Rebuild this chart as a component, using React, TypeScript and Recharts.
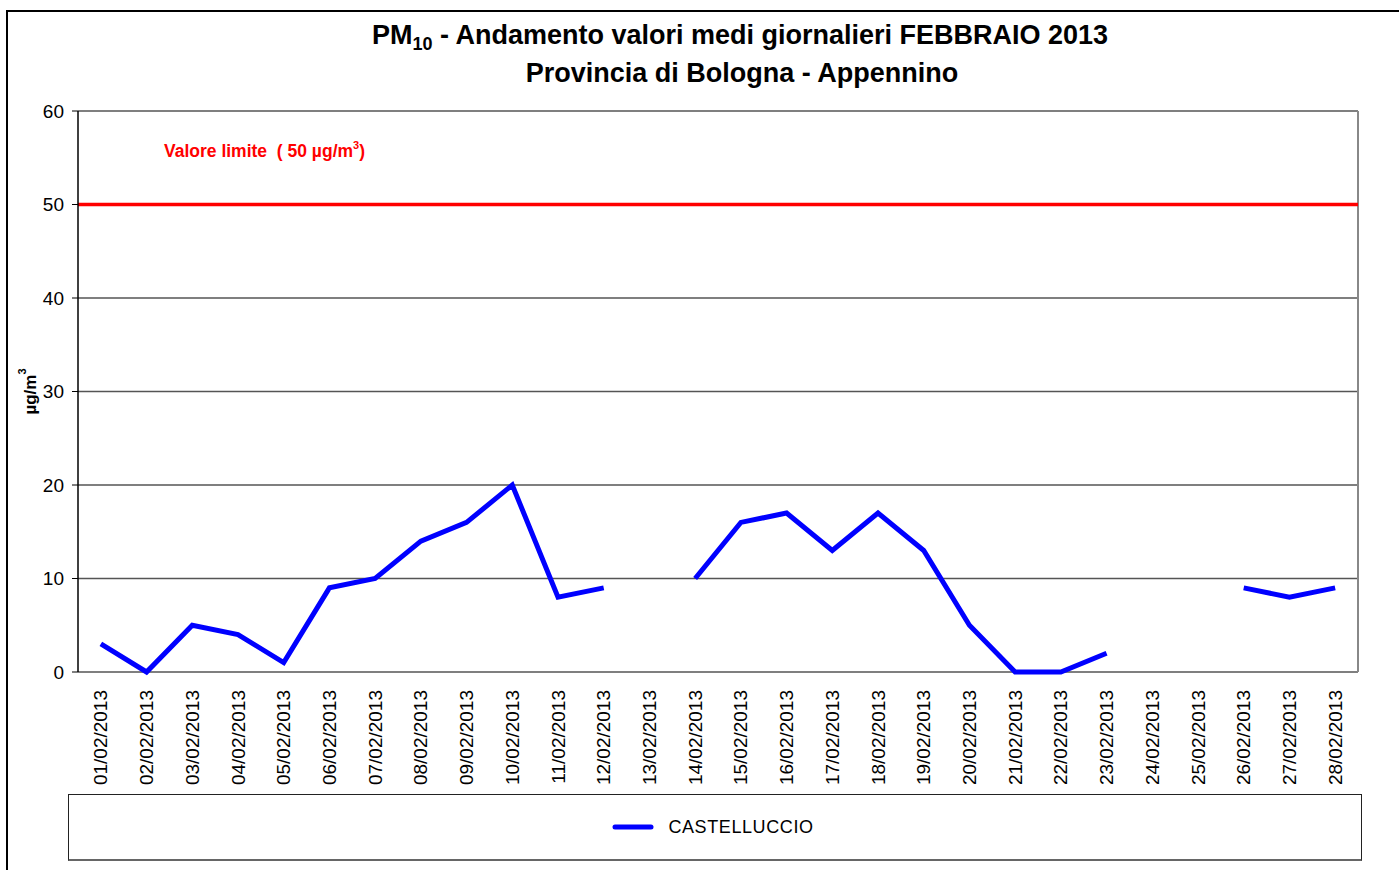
import React from 'react';
import {
  LineChart,
  Line,
  XAxis,
  YAxis,
  CartesianGrid,
  Legend,
  ReferenceLine,
  Label,
} from 'recharts';

// giorni del mese (asse numerico, così i tick di separazione cadono tra le date)
const days = [1, 2, 3, 4, 5, 6, 7, 8, 9, 10, 11, 12, 13, 14, 15, 16, 17, 18, 19, 20, 21, 22, 23, 24, 25, 26, 27, 28];
const dateLabels = [
  '01/02/2013', '02/02/2013', '03/02/2013', '04/02/2013', '05/02/2013', '06/02/2013', '07/02/2013',
  '08/02/2013', '09/02/2013', '10/02/2013', '11/02/2013', '12/02/2013', '13/02/2013', '14/02/2013',
  '15/02/2013', '16/02/2013', '17/02/2013', '18/02/2013', '19/02/2013', '20/02/2013', '21/02/2013',
  '22/02/2013', '23/02/2013', '24/02/2013', '25/02/2013', '26/02/2013', '27/02/2013', '28/02/2013',
];
// valori medi giornalieri PM10 (µg/m3), null = dato mancante
const castelluccio = [3, 0, 5, 4, 1, 9, 10, 14, 16, 20, 8, 9, null, 10, 16, 17, 13, 17, 13, 5, 0, 0, 2, null, null, 9, 8, 9];
const yTicks = [0, 10, 20, 30, 40, 50, 60];
const LIMIT = 50;

const data = days.map((d, i) => ({ day: d, label: dateLabels[i], castelluccio: castelluccio[i] }));
const boundaryTicks = [0.5, ...days.map((d) => d + 0.5)];

const FONT = '"Liberation Sans", Arial, sans-serif';
const W = 1391;
const H = 858;

const DateTick = ({ x, y, payload }: any) => {
  const idx = days.indexOf(payload.value);
  return (
    <text
      transform={`translate(${x},${y + 10}) rotate(-90)`}
      textAnchor="end"
      dominantBaseline="central"
      fontSize={19}
      fontFamily={FONT}
      fill="#000"
    >
      {dateLabels[idx]}
    </text>
  );
};

const YAxisTitle = ({ viewBox }: any) => {
  const cx = viewBox.x + 22;
  const cy = viewBox.y + viewBox.height / 2;
  return (
    <text
      transform={`translate(${cx},${cy}) rotate(-90)`}
      textAnchor="middle"
      dominantBaseline="central"
      fontSize={17}
      fontWeight="bold"
      fontFamily={FONT}
      fill="#000"
    >
      µg/m<tspan dy={-8} fontSize={11}>3</tspan>
    </text>
  );
};

const LimitLabel = ({ viewBox }: any) => (
  <text x={viewBox.x + 86} y={viewBox.y - 48} fontSize={17.5} fontWeight="bold" fontFamily={FONT} fill="#ff0000">
    Valore limite {'\u00a0'}( 50 µg/m<tspan dy={-8} fontSize={11}>3</tspan>
    <tspan dy={8}>)</tspan>
  </text>
);

const LegendBox = () => (
  <div
    style={{
      height: 64,
      border: '1px solid #222',
      borderBottom: '2px solid #666',
      display: 'flex',
      alignItems: 'center',
      justifyContent: 'center',
      fontFamily: FONT,
      fontSize: 18,
      color: '#000',
    }}
  >
    <svg width={42} height={8} style={{ marginRight: 14, marginLeft: -4 }}>
      <line x1={3} y1={4} x2={39} y2={4} stroke="#0000ff" strokeWidth={5} strokeLinecap="round" />
    </svg>
    <span style={{ letterSpacing: 0.6 }}>CASTELLUCCIO</span>
  </div>
);

export default function App() {
  return (
    <div
      style={{
        position: 'absolute',
        left: 6,
        top: 10,
        width: W,
        height: H,
        borderLeft: '2px solid #000',
        borderTop: '2px solid #000',
        background: '#fff',
        overflow: 'hidden',
      }}
    >
      <svg width={W} height={110} style={{ position: 'absolute', left: 0, top: 0, pointerEvents: 'none' }}>
        <text x={732} y={32} textAnchor="middle" fontSize={27} fontWeight="bold" fontFamily={FONT} fill="#000">
          PM<tspan dy={6} fontSize={18}>10</tspan>
          <tspan dy={-6}> - Andamento valori medi giornalieri FEBBRAIO 2013</tspan>
        </text>
        <text x={734} y={70} textAnchor="middle" fontSize={27} fontWeight="bold" fontFamily={FONT} fill="#000">
          Provincia di Bologna - Appennino
        </text>
      </svg>
      <LineChart width={W} height={H} data={data} margin={{ top: 99, right: 41, left: 0, bottom: 9 }}>
        <CartesianGrid vertical={false} stroke="#555" strokeWidth={1.3} />
        <XAxis
          xAxisId="sep"
          dataKey="day"
          type="number"
          domain={[0.5, 28.5]}
          ticks={boundaryTicks}
          tick={false}
          tickSize={7}
          height={0}
          axisLine={{ stroke: '#000', strokeWidth: 1.5 }}
          tickLine={{ stroke: '#000' }}
        />
        <XAxis
          xAxisId="lab"
          dataKey="day"
          type="number"
          domain={[0.5, 28.5]}
          ticks={days}
          tick={<DateTick />}
          tickLine={false}
          axisLine={false}
          height={122}
          interval={0}
        />
        <YAxis
          domain={[0, 60]}
          ticks={yTicks}
          width={70}
          tickSize={6}
          tickMargin={8}
          tick={{ fontSize: 19, fontFamily: FONT, fill: '#000' }}
          axisLine={{ stroke: '#000', strokeWidth: 1.5 }}
          tickLine={{ stroke: '#000' }}
        >
          <Label content={<YAxisTitle />} />
        </YAxis>
        <ReferenceLine xAxisId="sep" x={28.5} stroke="#888" strokeWidth={2} />
        <ReferenceLine xAxisId="sep" y={LIMIT} stroke="#ff0000" strokeWidth={3.5} label={<LimitLabel />} />
        <Legend verticalAlign="bottom" content={<LegendBox />} wrapperStyle={{ left: 60, width: 1294, bottom: 9 }} />
        <Line
          xAxisId="sep"
          dataKey="castelluccio"
          name="CASTELLUCCIO"
          stroke="#0000ff"
          strokeWidth={5}
          dot={false}
          activeDot={false}
          connectNulls={false}
          isAnimationActive={false}
        />
      </LineChart>
    </div>
  );
}
